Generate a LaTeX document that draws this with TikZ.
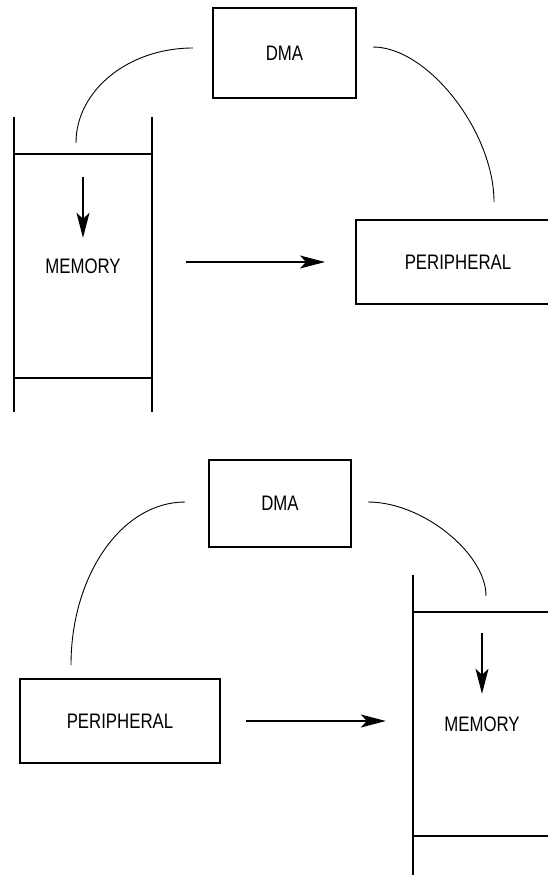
\documentclass[tikz,border=0pt]{standalone}
\usepackage{fontspec}
\setmainfont{Liberation Sans}[FakeStretch=0.8]
\usetikzlibrary{arrows.meta,calc}
\tikzset{
  unitbox/.style={
    rectangle, draw, line width=2pt, inner sep=0pt,
    font=\fontsize{21}{23}\selectfont
  },
  memcell/.style={
    rectangle, inner sep=0pt, minimum width=138pt, minimum height=224pt,
    font=\fontsize{21}{23}\selectfont
  },
  memrule/.style={line width=2pt},
  memrail/.style={line width=2.5pt},
  buswire/.style={line width=0.9pt},
  flowarrow/.style={-{Stealth[length=25pt,width=13pt,inset=6pt]}, line width=1.2pt},
}

\begin{document}
\begin{tikzpicture}[x=1pt,y=-1pt]
    \useasboundingbox (0,0) rectangle (548,875);
    \clip (0,0) rectangle (548,875);
    % memory to peripheral
    \node[unitbox, minimum width=143pt, minimum height=90pt] (dmaA) at (284.5,53) {DMA};
    \node[memcell] (memA) at (83,266) {MEMORY};
    \node[unitbox, minimum width=204pt, minimum height=84pt] (perA) at (458,262) {PERIPHERAL};
    \draw[memrule] (memA.north west) -- (memA.north east) (memA.south west) -- (memA.south east);
    \draw[memrail] ([yshift=37pt]memA.north west) -- ([yshift=-34pt]memA.south west);
    \draw[memrail] ([yshift=37pt]memA.north east) -- ([yshift=-34pt]memA.south east);
    \draw[flowarrow] ([yshift=-23pt]memA.north) -- ([yshift=-84pt]memA.north);
    \draw[flowarrow] ($(memA.east |- perA.west)+(34,0)$) -- ($(perA.west)+(-30,0)$);
    \draw[buswire] ($(memA.north)+(-7,-11)$) .. controls +(0,-52) and +(-65,0) .. ($(dmaA.west)+(-19,-5)$);
    \draw[buswire] ($(dmaA.east)+(16,-6)$) .. controls +(55,0) and +(0,-70) .. ($(perA.north)+(36,-17)$);
    % peripheral to memory
    \node[unitbox, minimum width=142pt, minimum height=87pt] (dmaB) at (280,503.5) {DMA};
    \node[unitbox, minimum width=200pt, minimum height=84pt] (perB) at (120,721) {PERIPHERAL};
    \node[memcell] (memB) at (482,724) {MEMORY};
    \draw[memrule] (memB.north west) -- (memB.north east) (memB.south west) -- (memB.south east);
    \draw[memrail] ([yshift=37pt]memB.north west) -- ([yshift=-50pt]memB.south west);
    \draw[memrail] ([yshift=37pt]memB.north east) -- ([yshift=-50pt]memB.south east);
    \draw[flowarrow] ([yshift=-21pt]memB.north) -- ([yshift=-82pt]memB.north);
    \draw[flowarrow] ($(perB.east)+(25,0)$) -- ($(memB.west |- perB.east)+(-27,0)$);
    \draw[buswire] ($(perB.north)+(-49,-13)$) .. controls +(0,-90) and +(-63,0) .. ($(dmaB.west)+(-23,-1.5)$);
    \draw[buswire] ($(dmaB.east)+(16,-1.5)$) .. controls +(55,0) and +(0,-42) .. ($(memB.north)+(4,-16)$);
\end{tikzpicture}
\end{document}
